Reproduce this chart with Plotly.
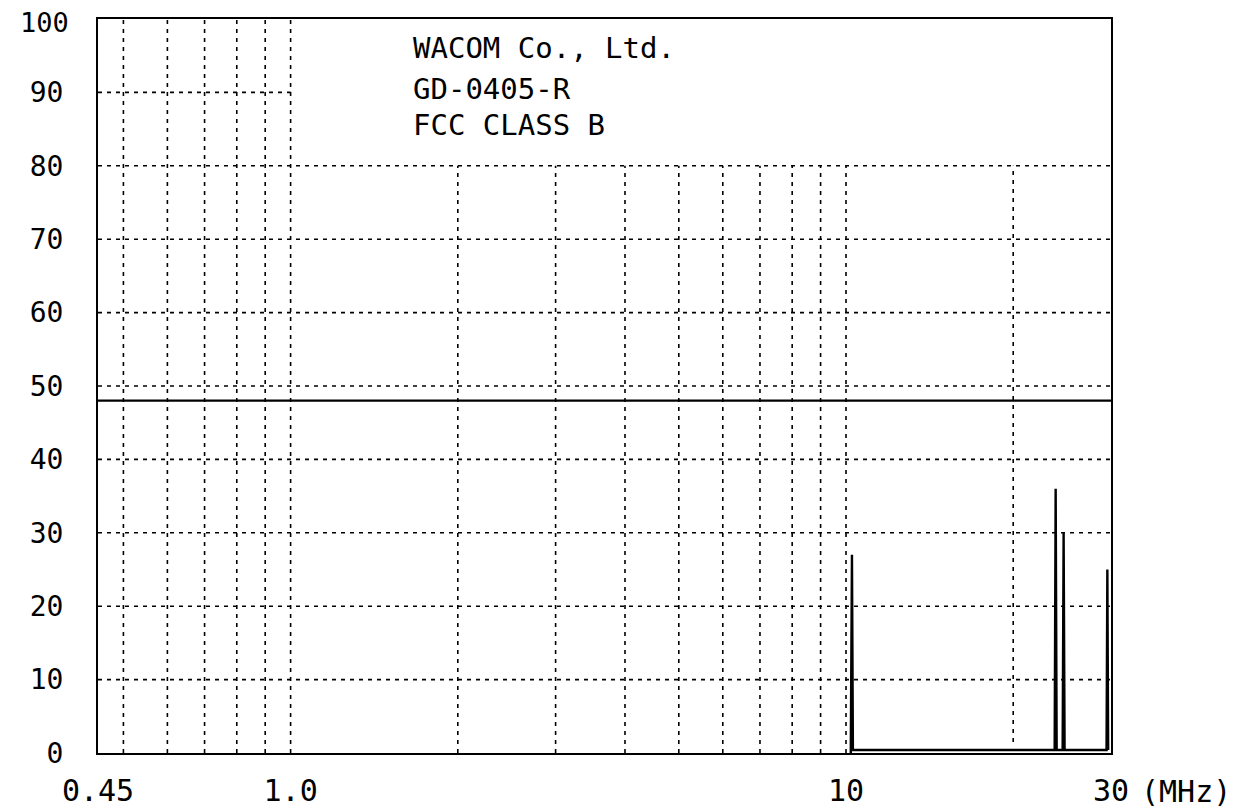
import plotly.graph_objects as go
import math

# ---- data ----
freq_mhz = [10.20, 10.25, 10.29, 23.75, 23.85, 23.95, 24.55, 24.65, 24.75, 29.45, 29.55, 29.65]
level_db = [0.0, 27.0, 0.4, 0.4, 36.0, 0.4, 0.4, 30.0, 0.4, 0.4, 25.0, 0.4]

limit_freq = [0.45, 30.0]
limit_level = [48.0, 48.0]

x_tick_vals = [0.45, 1.0, 10.0, 30.0]
x_tick_text = ["0.45", "1.0", "10", "30"]
y_tick_vals = [0, 10, 20, 30, 40, 50, 60, 70, 80, 90]
y_top_label = "100"

grid_v_low = [0.5, 0.6, 0.7, 0.8, 0.9, 1.0]        # full height
grid_v_mid = [2, 3, 4, 5, 6, 7, 8, 9, 10]           # up to 80
grid_v_high = [20]                                   # up to 80
grid_h_full = [10, 20, 30, 40, 50, 60, 70, 80]
grid_h_short = [90]                                  # 0.45 .. 1.0

title_lines = ["WACOM Co., Ltd.", "GD-0405-R", "FCC CLASS B"]

FONT = "DejaVu Sans Mono"
X_MIN, X_MAX = 0.45, 30.0

fig = go.Figure()

def seg_trace(xs, ys):
    fig.add_trace(go.Scatter(x=xs, y=ys, mode="lines", hoverinfo="skip",
                             line=dict(color="black", width=1.6, dash="4px,5px"),
                             showlegend=False))

gx, gy = [], []
for v in grid_v_low:
    gx += [v, v, None]; gy += [0, 100, None]
for v in grid_v_mid:
    gx += [v, v, None]; gy += [0, 80, None]
for v in grid_v_high:
    gx += [v, v, None]; gy += [1.5, 80, None]
for h in grid_h_full:
    gx += [X_MIN, X_MAX, None]; gy += [h, h, None]
for h in grid_h_short:
    gx += [X_MIN, 1.0, None]; gy += [h, h, None]
seg_trace(gx, gy)

fig.add_trace(go.Scatter(x=limit_freq, y=limit_level, mode="lines",
                         line=dict(color="black", width=2.2), showlegend=False))
fig.add_trace(go.Scatter(x=freq_mhz, y=level_db, mode="lines",
                         line=dict(color="black", width=2.4), showlegend=False))

for i, t in enumerate(title_lines):
    fig.add_annotation(text=t, xref="paper", yref="paper",
                       x=0.309, y=[0.961, 0.905, 0.856][i],
                       xanchor="left", yanchor="middle", showarrow=False,
                       font=dict(family=FONT, size=29, color="black"))

fig.add_annotation(text=y_top_label, xref="paper", yref="paper",
                   x=-0.0266, y=0.995, xanchor="right", yanchor="middle",
                   showarrow=False, font=dict(family=FONT, size=27, color="black"))

fig.add_annotation(text="(MHz)", xref="paper", yref="paper",
                   x=1.028, y=-0.052, xanchor="left", yanchor="middle",
                   showarrow=False, font=dict(family=FONT, size=30, color="black"))

fig.update_xaxes(type="log", range=[math.log10(X_MIN), math.log10(X_MAX)],
                 tickvals=x_tick_vals, ticktext=x_tick_text,
                 showgrid=False, zeroline=False, automargin=False,
                 showline=True, linecolor="black", linewidth=2, mirror=True,
                 ticks="", ticklabelstandoff=10,
                 tickfont=dict(family=FONT, size=30, color="black"))
fig.update_yaxes(range=[0, 100], tickvals=y_tick_vals,
                 showgrid=False, zeroline=False, automargin=False,
                 showline=True, linecolor="black", linewidth=2, mirror=True,
                 ticks="", ticklabelstandoff=27,
                 tickfont=dict(family=FONT, size=28, color="black"))

fig.update_layout(width=1244, height=804,
                  margin=dict(l=90, r=141, t=11, b=59, autoexpand=False),
                  paper_bgcolor="white", plot_bgcolor="white",
                  showlegend=False)

fig.write_html("out.html")
